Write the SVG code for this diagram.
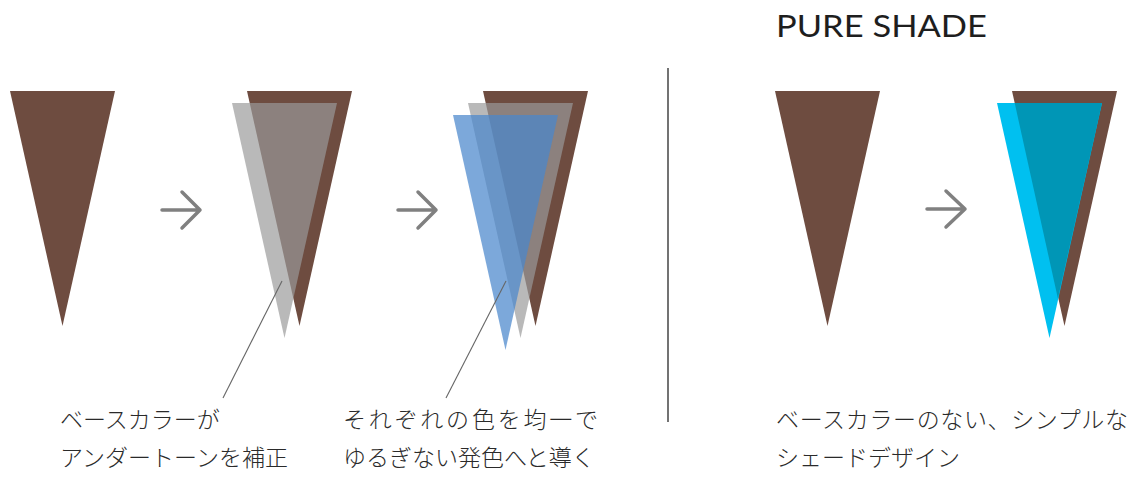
<svg xmlns="http://www.w3.org/2000/svg" width="1141" height="482" viewBox="0 0 1141 482">
<style>
.brown{fill:#6e4c40}
.gray{fill:#999999;fill-opacity:0.69}
.blue{fill:#4a87cc;fill-opacity:0.72}
.cyan{fill:#00c0f0}
.teal{fill:#0096b6}
.arrow{fill:none;stroke:#808080;stroke-width:3.5;stroke-linecap:round;stroke-linejoin:round}
.leader{stroke:#666666;stroke-width:1.1;fill:none}
.divider{stroke:#444444;stroke-width:1.5}
.jp{font-family:"Noto Sans CJK JP","Noto Sans",sans-serif;font-size:23px;font-weight:300;fill:#2a2a2a}
.title{font-family:Lato,"Noto Sans",sans-serif;font-size:30px;font-weight:400;fill:#1e1e1e}
</style>
<defs>
<polygon id="tri" points="0,0 105,0 52.5,235"/>
</defs>
<g id="title"><text class="title" x="776" y="37" textLength="211" lengthAdjust="spacingAndGlyphs">PURE SHADE</text></g>
<g id="stage1"><use href="#tri" class="brown" x="10" y="91"/></g>
<g id="stage2">
<use href="#tri" class="brown" x="247" y="91"/>
<use href="#tri" class="gray" x="232" y="103"/>
</g>
<g id="stage3">
<use href="#tri" class="brown" x="483" y="91"/>
<use href="#tri" class="gray" x="468" y="103"/>
<use href="#tri" class="blue" x="453" y="115"/>
</g>
<g id="pure1"><use href="#tri" class="brown" x="775" y="91"/></g>
<g id="pure2">
<use href="#tri" class="brown" x="1012" y="91"/>
<use href="#tri" class="cyan" x="997" y="103"/>
<polygon class="teal" points="1014.7,103 1102,103 1057.9,298.5"/>
</g>
<g id="connectors">
<path class="arrow" d="M162,210 H200 M182,192 L200,210 L182,228"/>
<path class="arrow" d="M398,210 H436 M418,192 L436,210 L418,228"/>
<path class="arrow" d="M927,209 H965 M946,191 L965,209 L946,227"/>
<line class="leader" x1="282" y1="281" x2="223" y2="398"/>
<line class="leader" x1="506" y1="281" x2="446" y2="398"/>
<line class="divider" x1="668" y1="68" x2="668" y2="422"/>
</g>
<g id="label1">
<text class="jp" x="60" y="428">ベースカラーが</text>
<text class="jp" x="60" y="466">アンダートーンを補正</text>
</g>
<g id="label2">
<text class="jp" x="343" y="428" textLength="255" lengthAdjust="spacing">それぞれの色を均一で</text>
<text class="jp" x="343" y="466">ゆるぎない発色へと導く</text>
</g>
<g id="label3">
<text class="jp" x="776" y="428" textLength="352" lengthAdjust="spacing">ベースカラーのない、シンプルな</text>
<text class="jp" x="776" y="466">シェードデザイン</text>
</g>
</svg>
